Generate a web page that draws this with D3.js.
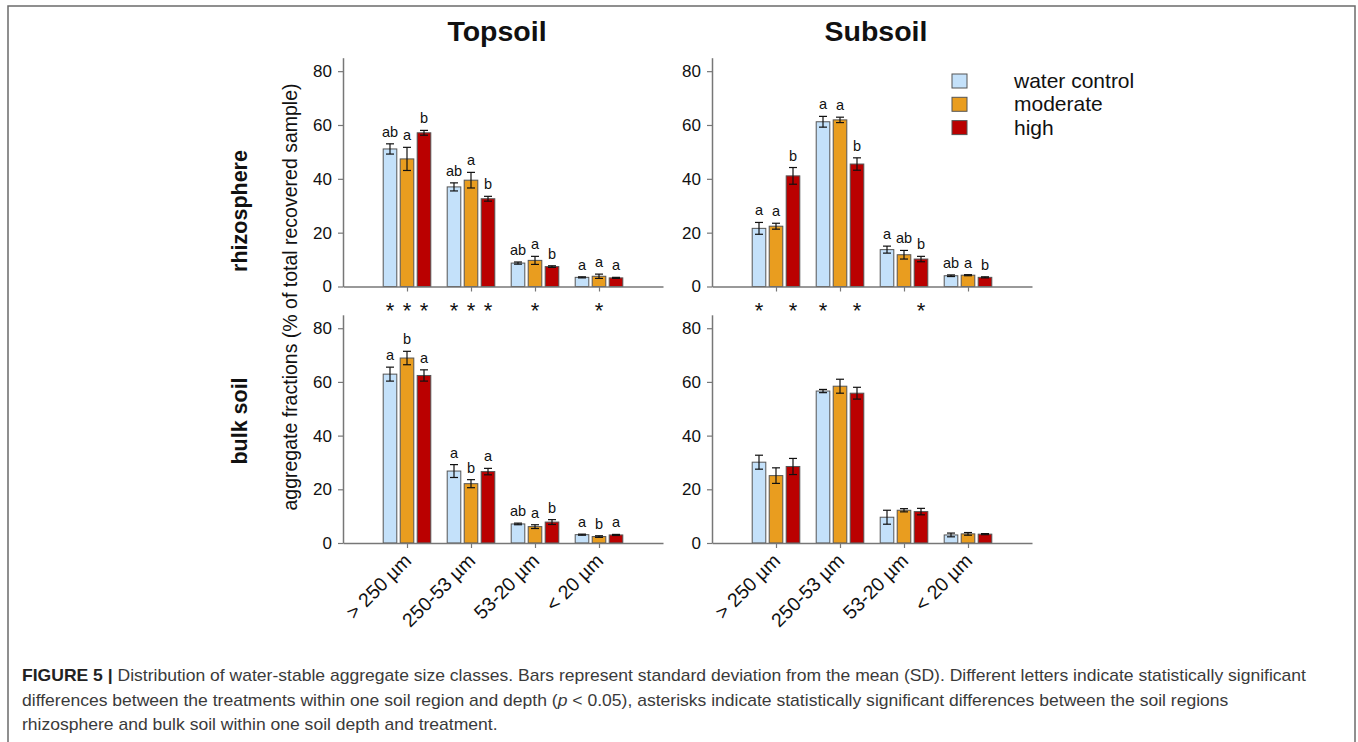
<!DOCTYPE html>
<html>
<head>
<meta charset="utf-8">
<script src="https://cdn.jsdelivr.net/npm/d3@7"></script>
<style>
  body { margin: 0; background: #fff; }
  text { font-family: Arial, "Liberation Sans", sans-serif; }
</style>
</head>
<body>
<div id="chart"></div>
<script>
// categorias y tratamientos
const categories = ["> 250 µm", "250-53 µm", "53-20 µm", "< 20 µm"];
const treatments = ["water control", "moderate", "high"];
const yTicks = [0, 20, 40, 60, 80];

// Topsoil - rhizosphere
const topRhizoMean = [[51.1, 47.4, 57.1], [37.0, 39.5, 32.6], [8.7, 9.7, 7.4], [3.4, 3.8, 3.2]];
const topRhizoSd = [[1.9, 4.3, 0.9], [1.5, 2.9, 0.9], [0.4, 1.5, 0.3], [0.2, 0.8, 0.2]];
const topRhizoLetters = [["ab", "a", "b"], ["ab", "a", "b"], ["ab", "a", "b"], ["a", "a", "a"]];
const topRhizoStars = [[1, 1, 1], [1, 1, 1], [0, 1, 0], [0, 1, 0]];

// Subsoil - rhizosphere
const subRhizoMean = [[21.6, 22.4, 41.1], [61.2, 61.9, 45.5], [13.7, 11.8, 10.2], [4.0, 4.2, 3.4]];
const subRhizoSd = [[2.2, 1.1, 3.1], [2.0, 1.0, 2.3], [1.3, 1.6, 1.0], [0.3, 0.2, 0.2]];
const subRhizoLetters = [["a", "a", "b"], ["a", "a", "b"], ["a", "ab", "b"], ["ab", "a", "b"]];
const subRhizoStars = [[1, 0, 1], [1, 0, 1], [0, 0, 1], [0, 0, 0]];

// Topsoil - bulk soil
const topBulkMean = [[62.9, 68.9, 62.4], [26.8, 22.1, 26.6], [7.1, 6.1, 7.8], [3.1, 2.4, 3.0]];
const topBulkSd = [[2.6, 2.5, 2.1], [2.4, 1.5, 1.2], [0.3, 0.7, 0.9], [0.2, 0.3, 0.2]];
const topBulkLetters = [["a", "b", "a"], ["a", "b", "a"], ["ab", "a", "b"], ["a", "b", "a"]];

// Subsoil - bulk soil
const subBulkMean = [[30.1, 25.1, 28.5], [56.6, 58.4, 55.8], [9.6, 12.2, 11.7], [3.0, 3.4, 3.3]];
const subBulkSd = [[2.6, 2.9, 3.0], [0.6, 2.6, 2.2], [2.6, 0.6, 1.2], [0.7, 0.5, 0.2]];

const colors = ["#c4e1fa", "#e99d1f", "#ba0000"];

const width = 1358, height = 742;
const svg = d3.select("#chart").append("svg")
  .attr("width", width).attr("height", height);

// marco
svg.append("rect")
  .attr("x", 8).attr("y", 6).attr("width", 1347).attr("height", 780)
  .attr("fill", "none").attr("stroke", "#6b6b6b").attr("stroke-width", 1.5);

const panels = [
  { x0: 343, y0: 286.5, yTop: 57.7, mean: topRhizoMean, sd: topRhizoSd, letters: topRhizoLetters, stars: topRhizoStars, labels: false },
  { x0: 712, y0: 286.5, yTop: 57.7, mean: subRhizoMean, sd: subRhizoSd, letters: subRhizoLetters, stars: subRhizoStars, labels: false },
  { x0: 343, y0: 543, yTop: 314.8, mean: topBulkMean, sd: topBulkSd, letters: topBulkLetters, stars: null, labels: true },
  { x0: 712, y0: 543, yTop: 314.8, mean: subBulkMean, sd: subBulkSd, letters: null, stars: null, labels: true }
];

const inner = d3.scaleBand().domain(treatments).range([-25.5, 25.5])
  .paddingInner(0.2).paddingOuter(0.1);

panels.forEach((p) => {
  const g = svg.append("g");
  const x = d3.scaleLinear().domain([0, 5]).range([p.x0, p.x0 + 320]);
  const y = d3.scaleLinear().domain([0, 85]).range([p.y0, p.yTop]);

  // barras
  p.mean.forEach((vals, i) => {
    vals.forEach((v, j) => {
      const cx = x(i + 1) + inner(treatments[j]) + inner.bandwidth() / 2;
      g.append("rect")
        .attr("x", x(i + 1) + inner(treatments[j]))
        .attr("y", y(v))
        .attr("width", inner.bandwidth())
        .attr("height", y(0) - y(v))
        .attr("fill", colors[j])
        .attr("stroke", "#555")
        .attr("stroke-width", 1);
      const s = p.sd[i][j];
      const eb = g.append("g").attr("stroke", "#111").attr("stroke-width", 1.2);
      eb.append("line").attr("x1", cx).attr("x2", cx).attr("y1", y(v - s)).attr("y2", y(v + s));
      eb.append("line").attr("x1", cx - 4).attr("x2", cx + 4).attr("y1", y(v - s)).attr("y2", y(v - s));
      eb.append("line").attr("x1", cx - 4).attr("x2", cx + 4).attr("y1", y(v + s)).attr("y2", y(v + s));
      if (p.letters) {
        g.append("text")
          .attr("x", cx).attr("y", y(v + s) - 7)
          .attr("text-anchor", "middle")
          .attr("font-size", "14.5px").attr("fill", "#111")
          .text(p.letters[i][j]);
      }
      if (p.stars && p.stars[i][j]) {
        g.append("text")
          .attr("x", cx).attr("y", p.y0 + 31)
          .attr("text-anchor", "middle")
          .attr("font-size", "22px").attr("fill", "#111")
          .text("*");
      }
    });
  });

  // ejes
  const ax = g.append("g").attr("transform", `translate(0,${p.y0})`)
    .call(d3.axisBottom(x).tickValues([1, 2, 3, 4]).tickSize(5).tickSizeOuter(0)
      .tickFormat((d) => (p.labels ? categories[d - 1] : "")));
  ax.select(".domain").attr("stroke", "#777").attr("stroke-width", 1.5);
  ax.selectAll(".tick line").attr("stroke", "#777").attr("stroke-width", 1.2);
  ax.selectAll(".tick text")
    .attr("font-size", "19.5px").attr("fill", "#111")
    .attr("text-anchor", "end")
    .attr("y", 0).attr("dy", 0)
    .attr("transform", "translate(5,19) rotate(-45)");

  const ay = g.append("g").attr("transform", `translate(${p.x0},0)`)
    .call(d3.axisLeft(y).tickValues(yTicks).tickSize(5).tickSizeOuter(0).tickPadding(6));
  ay.select(".domain").attr("stroke", "#777").attr("stroke-width", 1.5);
  ay.selectAll(".tick line").attr("stroke", "#777").attr("stroke-width", 1.2);
  ay.selectAll(".tick text").attr("font-size", "17px").attr("fill", "#111");
});

// titulos
svg.append("text").attr("x", 497).attr("y", 41).attr("text-anchor", "middle")
  .attr("font-size", "28.5px").attr("font-weight", "bold").attr("fill", "#111").text("Topsoil");
svg.append("text").attr("x", 876).attr("y", 41).attr("text-anchor", "middle")
  .attr("font-size", "28.5px").attr("font-weight", "bold").attr("fill", "#111").text("Subsoil");

const rowLabel = (txt, cy) =>
  svg.append("text").attr("transform", `translate(247,${cy}) rotate(-90)`)
    .attr("text-anchor", "middle").attr("font-size", "21.5px").attr("font-weight", "bold")
    .attr("fill", "#111").text(txt);
rowLabel("rhizosphere", 211);
rowLabel("bulk soil", 421);

svg.append("text").attr("transform", "translate(297,297) rotate(-90)")
  .attr("text-anchor", "middle").attr("font-size", "19.5px").attr("fill", "#111")
  .text("aggregate fractions (% of total recovered sample)");

// leyenda
const leg = svg.append("g");
treatments.forEach((t, i) => {
  leg.append("rect").attr("x", 952).attr("y", 74 + i * 23.3).attr("width", 15).attr("height", 14)
    .attr("fill", colors[i]).attr("stroke", "#555").attr("stroke-width", 1);
  leg.append("text").attr("x", 1014).attr("y", 88 + i * 23.3)
    .attr("font-size", "21px").attr("fill", "#111").text(t);
});

// pie de figura
const capLines = [
  [["FIGURE 5 | ", "bold"], ["Distribution of water-stable aggregate size classes. Bars represent standard deviation from the mean (SD). Different letters indicate statistically significant", "normal"]],
  [["differences between the treatments within one soil region and depth (", "normal"], ["p", "italic"], [" < 0.05), asterisks indicate statistically significant differences between the soil regions", "normal"]],
  [["rhizosphere and bulk soil within one soil depth and treatment.", "normal"]]
];
const capNodes = capLines.map((parts, i) => {
  const t = svg.append("text").attr("x", 22).attr("y", 681 + i * 24.5)
    .attr("font-size", "17px").attr("fill", "#3a3a3a");
  parts.forEach(([s, st]) => {
    const ts = t.append("tspan").text(s);
    if (st === "bold") ts.attr("font-weight", "bold").attr("fill", "#222");
    if (st === "italic") ts.attr("font-style", "italic");
  });
  return t;
});
// mismo factor de compresion para todas las lineas (fuente condensada)
const factor = 1284 / capNodes[0].node().getComputedTextLength();
capNodes.forEach((t) => {
  const len = t.node().getComputedTextLength();
  t.attr("textLength", len * factor).attr("lengthAdjust", "spacingAndGlyphs");
});
</script>
</body>
</html>
